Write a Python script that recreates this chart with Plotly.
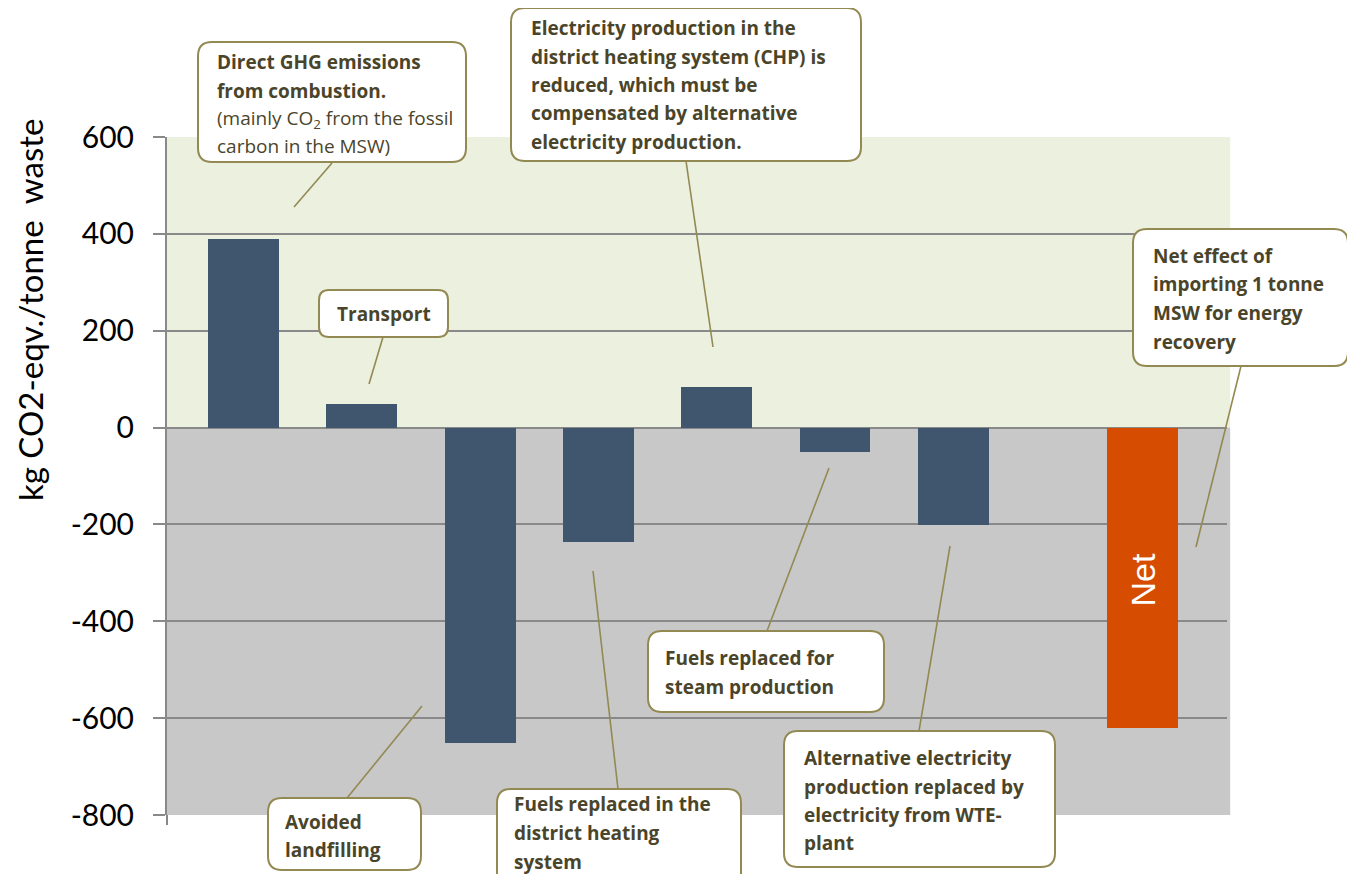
import plotly.graph_objects as go

# ---------------- data ----------------
categories = ["Direct GHG emissions", "Transport", "Avoided landfilling",
              "Fuels replaced (district heating)", "Reduced CHP electricity",
              "Fuels replaced (steam)", "Alternative electricity replaced", "Net"]
slots = [0, 1, 2, 3, 4, 5, 6, 7.6]
values = [390, 48, -652, -237, 84, -51, -202, -621]
bar_colors = ["#40566f"] * 7 + ["#d64c00"]
tick_vals = [600, 400, 200, 0, -200, -400, -600, -800]
tick_text = ["600", "400", "200", "0", "-200", "-400", "-600", "-800"]
y_title = "kg CO2-eqv./tonne  waste"

txt_direct = ["<b>Direct GHG emissions</b>", "<b>from combustion.</b>",
              "(mainly CO<sub>2</sub> from the fossil", "carbon in the MSW)"]
txt_chp = ["Electricity production in the", "district heating system (CHP) is",
           "reduced, which must be", "compensated by alternative",
           "electricity production."]
txt_transport = ["Transport"]
txt_net = ["Net effect of", "importing 1 tonne", "MSW for energy", "recovery"]
txt_landfill = ["Avoided", "landfilling"]
txt_steam = ["Fuels replaced for", "steam production"]
txt_dh = ["Fuels replaced in the", "district heating", "system"]
txt_alt = ["Alternative electricity", "production replaced by",
           "electricity from WTE-", "plant"]

# ---------------- layout geometry ----------------
OFF = 8                      # page body margin
W, H = 1355 - OFF, 874 - OFF
L, R, T, B = 167 - OFF, 128, 137 - OFF, 59
PW, PH = W - L - R, H - T - B

def px(x):
    return (x - OFF - L) / PW

def py(y):
    return (H - B - (y - OFF)) / PH

BORDER = "#938953"
TXT = "#4a452a"
GRID = "#898989"
BOXFONT = "Open Sans"

fig = go.Figure()
fig.add_trace(go.Bar(x=slots, y=values, marker_color=bar_colors,
                     marker_line_width=0, width=0.6, showlegend=False,
                     hovertext=categories))

shapes = []
shapes.append(dict(type="rect", xref="paper", yref="y", x0=0, x1=1.003,
                   y0=0, y1=600, fillcolor="#ebf1de", line_width=0, layer="below"))
shapes.append(dict(type="rect", xref="paper", yref="y", x0=0, x1=1.003,
                   y0=-800, y1=0, fillcolor="#c8c8c8", line_width=0, layer="below"))
shapes.append(dict(type="line", xref="paper", yref="paper", x0=0, x1=0,
                   y0=0, y1=-10 / PH, line=dict(color=GRID, width=2)))

def leader(x0, y0, x1, y1):
    shapes.append(dict(type="line", xref="paper", yref="paper",
                       x0=px(x0), y0=py(y0), x1=px(x1), y1=py(y1),
                       line=dict(color=BORDER, width=1.6)))

def rbox(x0, y0, x1, y1, r=14):
    pts = [
        ("M", [(x0 + r, y0)]), ("L", [(x1 - r, y0)]), ("Q", [(x1, y0), (x1, y0 + r)]),
        ("L", [(x1, y1 - r)]), ("Q", [(x1, y1), (x1 - r, y1)]),
        ("L", [(x0 + r, y1)]), ("Q", [(x0, y1), (x0, y1 - r)]),
        ("L", [(x0, y0 + r)]), ("Q", [(x0, y0), (x0 + r, y0)]),
    ]
    path = ""
    for cmd, ps in pts:
        path += cmd + " " + " ".join(f"{px(a):.5f},{py(b):.5f}" for a, b in ps) + " "
    path += "Z"
    shapes.append(dict(type="path", xref="paper", yref="paper", path=path,
                       fillcolor="white", line=dict(color=BORDER, width=2),
                       layer="above"))

annotations = []

def lines(texts, x, ys, anchor="left", size=19):
    for t, y in zip(texts, ys):
        plain = t.startswith("(") or t.startswith("carbon")
        s = t if (t.startswith("<b>") or plain) else f"<b>{t}</b>"
        annotations.append(dict(xref="paper", yref="paper", x=px(x), y=py(y),
                                text=s, showarrow=False, xanchor=anchor,
                                yanchor="middle",
                                font=dict(family=BOXFONT, size=size, color=TXT)))

leader(332, 163, 294, 207)
leader(686, 161, 713, 347)
leader(383, 337, 369, 384)
leader(1241, 366, 1196, 547)
leader(347, 798, 422, 706)
leader(767, 631, 829, 468)
leader(618, 789, 593, 571)
leader(919, 731, 950, 546)

rbox(198, 42, 466, 162)
rbox(511, 8, 861, 161)
rbox(319, 290, 448, 337, r=10)
rbox(1133, 229, 1348, 366)
rbox(268, 798, 421, 870)
rbox(648, 631, 884, 712)
rbox(497, 789, 741, 890)
rbox(784, 731, 1055, 867)

lines(txt_direct, 215, [62, 91, 119, 146])
lines(txt_chp, 529, [28, 57, 85, 113, 142])
lines(txt_transport, 383.5, [314], anchor="center")
lines(txt_net, 1151, [256, 284, 313, 342])
lines(txt_landfill, 283, [822, 850])
lines(txt_steam, 663, [658, 687])
lines(txt_dh, 512, [804, 833, 862])
lines(txt_alt, 802, [758, 787, 815, 843])

annotations.append(dict(xref="x", yref="paper", x=slots[-1], y=py(580), text="Net",
                        textangle=-90, showarrow=False, xanchor="center", yanchor="middle",
                        font=dict(family="Liberation Sans", size=34, color="white")))

annotations.append(dict(xref="paper", yref="paper", x=px(8), y=py(310), text=y_title,
                        textangle=-90, showarrow=False, xanchor="left", yanchor="middle",
                        font=dict(family="Lato", size=33, color="black")))

fig.update_layout(
    width=W, height=H,
    margin=dict(l=L, r=R, t=T, b=B, pad=0),
    paper_bgcolor="white", plot_bgcolor="rgba(0,0,0,0)",
    shapes=shapes, annotations=annotations, showlegend=False,
    xaxis=dict(range=[-0.647, 8.314], showgrid=False, zeroline=False,
               showticklabels=False, showline=False, ticks=""),
    yaxis=dict(range=[-800, 600], tickvals=tick_vals, ticktext=tick_text,
               showgrid=True, gridcolor=GRID, gridwidth=2,
               zeroline=True, zerolinecolor=GRID, zerolinewidth=2,
               showline=True, linecolor=GRID, linewidth=2,
               ticks="outside", ticklen=12, tickwidth=2, tickcolor=GRID,
               ticklabelstandoff=13,
               tickfont=dict(family="Lato", size=30, color="black")),
    bargap=0,
)

fig.write_html("out.html")
